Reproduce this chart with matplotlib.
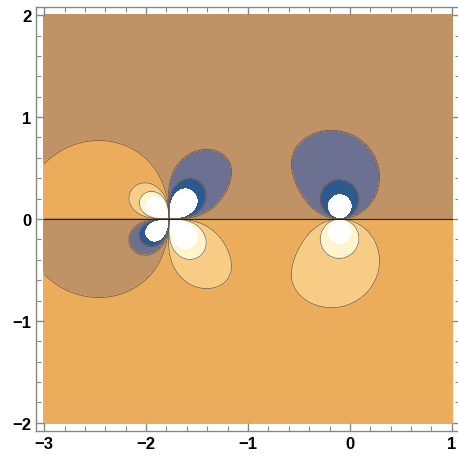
import numpy as np
import matplotlib
matplotlib.use("Agg")
import matplotlib.pyplot as plt
from matplotlib.ticker import MultipleLocator

# Pole data for F(z) = A/(z-a) + B/(z-p) + C/(z-p)^2; the plot shows Im F
dipole_pos = -0.1
dipole_res = 0.74
quad_pos = -1.775
quad_res1 = 0.285
quad_res2 = 0.32

# Contour bands (white outside the range) and their fill colours
levels = [-3, -2, -1, 0, 1, 2, 3]
band_colors = ["#2c5a90", "#6d7191", "#bf9365", "#ebad5c", "#f8cc85", "#fff4cc"]
line_levels = [-2, -1, 0, 1, 2]

xr = (-3, 1)
yr = (-2, 2)

x = np.linspace(xr[0], xr[1], 1201)
y = np.linspace(yr[0], yr[1], 1200)
X, Y = np.meshgrid(x, y)
Z = X + 1j * Y
F = (dipole_res / (Z - dipole_pos)
     + quad_res1 / (Z - quad_pos)
     + quad_res2 / (Z - quad_pos) ** 2)
V = F.imag

fig = plt.figure(figsize=(4.58, 4.56), dpi=100)
ax = fig.add_axes([36 / 458, 24 / 456, 424 / 458, 424 / 456])

cf = ax.contourf(X, Y, V, levels=levels, colors=band_colors)
cf.set_edgecolor("face")
cf.set_linewidth(0.3)
# solid lines for the negative levels too (matplotlib dashes them by default)
ax.contour(X, Y, V, levels=line_levels, colors="#5e4e40", linewidths=0.6,
           linestyles="solid", alpha=0.8)
ax.plot([xr[0], xr[1]], [0, 0], color="#2a2018", lw=0.8)

pad = 0.08
ax.set_xlim(xr[0] - pad, xr[1] + pad)
ax.set_ylim(yr[0] - pad, yr[1] + pad)

ax.xaxis.set_major_locator(MultipleLocator(1))
ax.yaxis.set_major_locator(MultipleLocator(1))
ax.xaxis.set_minor_locator(MultipleLocator(0.2))
ax.yaxis.set_minor_locator(MultipleLocator(0.2))
ax.tick_params(which="both", direction="in", top=True, right=True, color="#888888")
ax.tick_params(which="major", length=6, width=1)
ax.tick_params(which="minor", length=3.5, width=0.8)
ax.tick_params(labelsize=12)
for s in ax.spines.values():
    s.set_color("#888888")
    s.set_linewidth(1)
for lab in ax.get_xticklabels() + ax.get_yticklabels():
    lab.set_fontweight("bold")
    lab.set_family("Liberation Sans")

fig.savefig("out.png", dpi=100)
